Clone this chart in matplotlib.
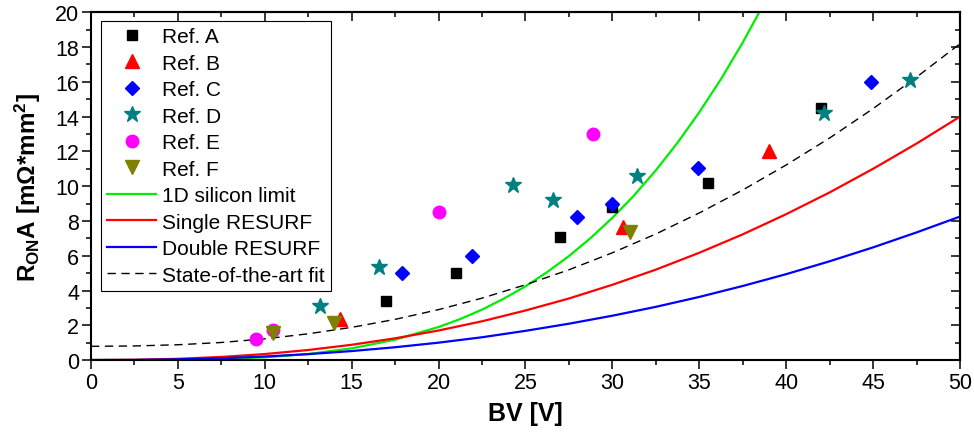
import matplotlib
matplotlib.use("Agg")
import matplotlib.pyplot as plt
from matplotlib.ticker import MultipleLocator

plt.rcParams['font.family'] = ['Liberation Sans', 'DejaVu Sans']
plt.rcParams['mathtext.fontset'] = 'custom'
plt.rcParams['mathtext.rm'] = 'Liberation Sans:bold'
plt.rcParams['mathtext.it'] = 'Liberation Sans:bold'
plt.rcParams['mathtext.bf'] = 'Liberation Sans:bold'

# Published devices: breakdown voltage [V] vs specific on-resistance [mOhm*mm^2]
ref_a_bv = [17.0, 21.0, 27.0, 30.0, 35.5, 42.0]
ref_a_ron = [3.4, 5.0, 7.1, 8.8, 10.2, 14.5]
ref_b_bv = [14.3, 30.6, 39.0]
ref_b_ron = [2.35, 7.65, 12.0]
ref_c_bv = [17.9, 21.9, 27.95, 30.0, 34.9, 44.9]
ref_c_ron = [5.0, 6.0, 8.25, 9.0, 11.05, 16.0]
ref_d_bv = [13.2, 16.6, 24.3, 26.6, 31.4, 42.2, 47.1]
ref_d_ron = [3.1, 5.35, 10.05, 9.2, 10.6, 14.2, 16.1]
ref_e_bv = [9.5, 10.5, 20.0, 28.9]
ref_e_ron = [1.2, 1.7, 8.5, 13.0]
ref_f_bv = [10.5, 14.0, 31.0]
ref_f_ron = [1.55, 2.15, 7.35]

# Theoretical limits, sampled along BV
bv_grid = [0, 2.5, 5, 7.5, 10, 12.5, 15, 17.5, 20, 22.5, 25, 27.5, 30,
           32.5, 35, 37.5, 40, 42.5, 45, 47.5, 50]
single_resurf = [0.0, 0.014, 0.070, 0.178, 0.345, 0.578, 0.878, 1.25, 1.70,
                 2.23, 2.85, 3.54, 4.33, 5.20, 6.17, 7.23, 8.39, 9.64, 11.0,
                 12.45, 14.0]
double_resurf = [0.0, 0.008, 0.041, 0.105, 0.203, 0.340, 0.517, 0.737, 1.00,
                 1.31, 1.68, 2.09, 2.55, 3.06, 3.63, 4.26, 4.94, 5.68, 6.48,
                 7.34, 8.25]
sota_fit = [0.79, 0.81, 0.88, 1.01, 1.22, 1.51, 1.88, 2.34, 2.90, 3.56, 4.33,
            5.19, 6.17, 7.25, 8.46, 9.78, 11.22, 12.77, 14.46, 16.27, 18.19]

si_bv = [0, 2.5, 5, 7.5, 10, 12.5, 15, 17.5, 20, 21.25, 22.5, 23.75, 25,
         26.25, 27.5, 28.75, 30, 31.25, 32.5, 33.75, 35, 36.25, 37.5, 38.75]
si_limit = [0.0, 0.001, 0.013, 0.056, 0.157, 0.349, 0.674, 1.17, 1.90, 2.36,
            2.90, 3.53, 4.24, 5.06, 5.98, 7.02, 8.18, 9.47, 10.91, 12.50,
            14.25, 16.16, 18.26, 20.55]

fig = plt.figure(figsize=(9.74, 4.35), dpi=100)
ax = fig.add_axes([0.0934, 0.170, 0.8922, 0.7994])

lw = 1.6
ax.plot(si_bv, si_limit, color='#00ee00', lw=lw, label='1D silicon limit', zorder=2)
ax.plot(bv_grid, single_resurf, color='#ff0000', lw=lw, label='Single RESURF', zorder=2)
ax.plot(bv_grid, double_resurf, color='#0000ff', lw=lw, label='Double RESURF', zorder=2)
ax.plot(bv_grid, sota_fit, color='black', lw=1.0, ls=(0, (6, 4)),
        label='State-of-the-art fit', zorder=2)

ax.plot(ref_a_bv, ref_a_ron, ls='none', marker='s', ms=7.5, color='black', label='Ref. A', zorder=3)
ax.plot(ref_b_bv, ref_b_ron, ls='none', marker='^', ms=10, color='#ff0000', label='Ref. B', zorder=3)
ax.plot(ref_c_bv, ref_c_ron, ls='none', marker='D', ms=7.5, color='#0000ff', label='Ref. C', zorder=3)
ax.plot(ref_d_bv, ref_d_ron, ls='none', marker='*', ms=12, color='#008080', label='Ref. D', zorder=3)
ax.plot(ref_e_bv, ref_e_ron, ls='none', marker='o', ms=9, color='#ff00ff', label='Ref. E', zorder=3)
ax.plot(ref_f_bv, ref_f_ron, ls='none', marker='v', ms=10, color='#808000', label='Ref. F', zorder=3)

ax.set_xlim(0, 50)
ax.set_ylim(0, 20)

ax.xaxis.set_major_locator(MultipleLocator(5))
ax.xaxis.set_minor_locator(MultipleLocator(2.5))
ax.yaxis.set_major_locator(MultipleLocator(2))
ax.yaxis.set_minor_locator(MultipleLocator(1))
ax.tick_params(which='major', direction='out', length=6.5, width=1.1,
               labelsize=15.5, pad=2)
ax.tick_params(which='minor', direction='out', length=3.3, width=1.1)
for sp in ax.spines.values():
    sp.set_linewidth(1.5)

# Mirror axes on top and right with inward ticks, no labels
top = ax.secondary_xaxis('top')
top.xaxis.set_major_locator(MultipleLocator(5))
top.xaxis.set_minor_locator(MultipleLocator(2.5))
top.tick_params(which='major', direction='in', length=6.5, width=1.1, labeltop=False)
top.tick_params(which='minor', direction='in', length=3.3, width=1.1)
right = ax.secondary_yaxis('right')
right.yaxis.set_major_locator(MultipleLocator(2))
right.yaxis.set_minor_locator(MultipleLocator(1))
right.tick_params(which='major', direction='in', length=6.5, width=1.1, labelright=False)
right.tick_params(which='minor', direction='in', length=3.3, width=1.1)
for sec in (top, right):
    for sp in sec.spines.values():
        sp.set_linewidth(1.5)

ax.set_xlabel('BV [V]', fontsize=18, fontweight='bold', labelpad=6)
ax.set_ylabel(r'R$_{\rm ON}$A [m$\Omega$*mm$^{\rm 2}$]', fontsize=17.5,
              fontweight='bold', labelpad=9)

handles, labels = ax.get_legend_handles_labels()
order = [4, 5, 6, 7, 8, 9, 0, 1, 2, 3]
leg = ax.legend([handles[i] for i in order], [labels[i] for i in order],
                loc='upper left', bbox_to_anchor=(0.0115, 0.975),
                fontsize=15, frameon=True, fancybox=False, framealpha=1,
                edgecolor='black', borderpad=0.3, labelspacing=0.36,
                handlelength=2.35, handletextpad=0.28, borderaxespad=0,
                numpoints=1)
leg.get_frame().set_linewidth(0.8)

fig.savefig('out.png', dpi=100)
